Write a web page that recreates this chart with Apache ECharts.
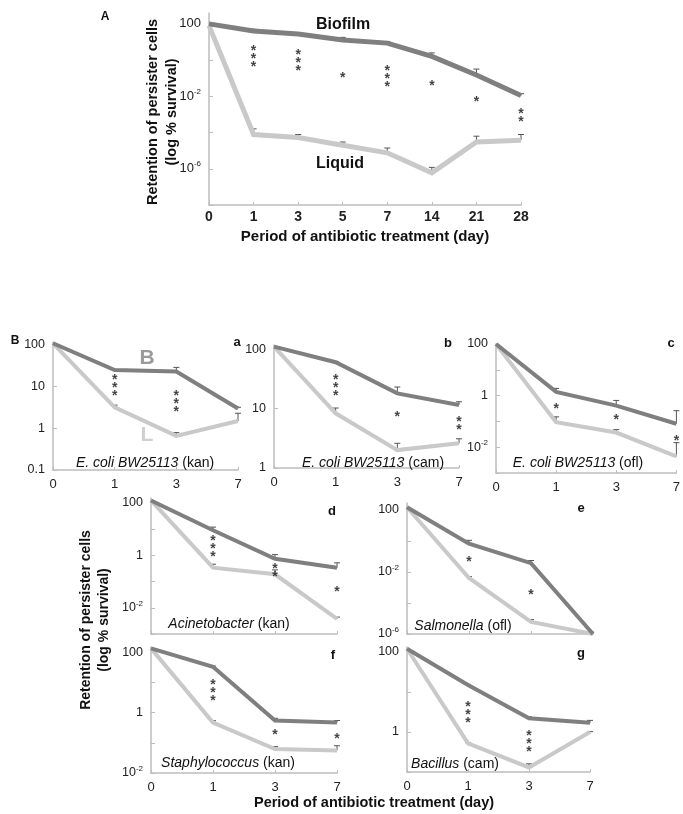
<!DOCTYPE html>
<html><head><meta charset="utf-8">
<script src="https://cdn.jsdelivr.net/npm/echarts@6/dist/echarts.min.js"></script>
<style>html,body{margin:0;padding:0;background:#fff}#c{width:683px;height:814px}</style>
</head><body><div id="c"></div>
<script>
// ---------- DATA ----------
const daysA = ['0','1','3','5','7','14','21','28'];
const biofilmA = [100, 41, 28, 13, 8.7, 1.6, 0.15, 0.011];
const biofilmErrA = [null, 51, 31, 18, 10.7, 2.5, 0.32, 0.014];
const liquidA = [80, 7.8e-5, 5.3e-5, 2.0e-5, 7.6e-6, 6.0e-7, 3.0e-5, 3.8e-5];
const liquidErrA = [null, 1.6e-4, 7.8e-5, 3.0e-5, 1.4e-5, 1.2e-6, 6.3e-5, 7.8e-5];
const starYA = [null, 1.7, 0.95, 0.14, 0.13, 0.054, 0.0074, 8.7e-4];
const starNA = [0, 3, 3, 1, 3, 1, 1, 2];

const daysB = ['0','1','3','7'];
// a: E. coli BW25113 (kan)
const aBio = [110, 25, 23, 3.0];
const aBioErr = [null, 26, 29, 3.2];
const aLiq = [110, 3.2, 0.66, 1.5];
const aLiqErr = [null, 3.6, 0.79, 2.3];
const aStarY = [null, 11, 4.4, null];
const aStarN = [0, 3, 3, 0];
// b: E. coli BW25113 (cam)
const bBio = [110, 60, 18, 11.5];
const bBioErr = [null, 62, 23, 13];
const bLiq = [110, 8.3, 2.0, 2.6];
const bLiqErr = [null, 10.2, 2.6, 3.1];
const bStarY = [null, 25, 7.9, 5.6];
const bStarN = [0, 3, 1, 2];
// c: E. coli BW25113 (ofl)
const cBio = [100, 1.4, 0.41, 0.081];
const cBioErr = [null, 1.9, 0.65, 0.26];
const cLiq = [100, 0.093, 0.037, 0.0044];
const cLiqErr = [null, 0.15, 0.048, 0.015];
const cStarY = [null, 0.4, 0.15, 0.023];
const cStarN = [0, 1, 1, 1];
// d: Acinetobacter (kan)
const dBio = [125, 9.1, 0.74, 0.34];
const dBioErr = [null, 12, 1.07, 0.52];
const dLiq = [125, 0.34, 0.19, 0.0038];
const dLiqErr = [null, 0.46, 0.28, 0.0044];
const dStarY = [null, 2.2, 0.28, 0.05];
const dStarN = [0, 3, 2, 1];
// e: Salmonella (ofl)
const eBio = [150, 0.67, 0.037, 1e-6];
const eBioErr = [null, 1.1, 0.055, null];
const eLiq = [150, 0.0041, 6e-6, 1e-6];
const eLiqErr = [null, 0.005, 8.5e-6, null];
const eStarY = [null, 0.07, 4.7e-4, null];
const eStarN = [0, 1, 1, 0];
// f: Staphylococcus (kan)
const fBio = [135, 33, 0.55, 0.47];
const fBioErr = [null, 35, 0.65, 0.55];
const fLiq = [135, 0.47, 0.062, 0.056];
const fLiqErr = [null, 0.54, 0.075, 0.08];
const fStarY = [null, 5.6, 0.22, 0.17];
const fStarN = [0, 3, 1, 1];
// g: Bacillus (cam)
const gBio = [120, 15, 2.2, 1.7];
const gBioErr = [null, 15.5, 2.4, 1.95];
const gLiq = [120, 0.52, 0.13, 1.0];
const gLiqErr = [null, 0.54, 0.16, 1.02];
const gStarY = [null, 3.2, 0.59, null];
const gStarN = [0, 3, 3, 0];

// ---------- LAYOUT ----------
const FONT = 'Arial, "Liberation Sans", Helvetica, sans-serif';
const DARK = '#7f7f7f', LIGHT = '#c9c9c9', AXIS = '#bdbdbd';

const panels = [
  {grid:{left:209, top:13, width:312, height:192}, cats:daysA, B:biofilmA, BE:biofilmErrA, L:liquidA, LE:liquidErrA, SY:starYA, SN:starNA,
   min:1e-8, max:400, labels:[100,1e-2,1e-6], ticks:[100,1,1e-2,1e-4,1e-6,1e-8], showX:true, lw:5, big:true},
  {grid:{left:53, top:342, width:185, height:128}, cats:daysB, B:aBio, BE:aBioErr, L:aLiq, LE:aLiqErr, SY:aStarY, SN:aStarN,
   min:0.1, max:118, labels:[100,10,1,0.1], ticks:[100,10,1,0.1], showX:true, lw:4},
  {grid:{left:274, top:345, width:185, height:123}, cats:daysB, B:bBio, BE:bBioErr, L:bLiq, LE:bLiqErr, SY:bStarY, SN:bStarN,
   min:1, max:117, labels:[100,10,1], ticks:[100,10,1], showX:true, lw:4},
  {grid:{left:496, top:344, width:183, height:129}, cats:daysB, B:cBio, BE:cBioErr, L:cLiq, LE:cLiqErr, SY:cStarY, SN:cStarN,
   min:1e-3, max:100, labels:[100,1,1e-2], ticks:[100,10,1,0.1,1e-2,1e-3], showX:true, lw:4},
  {grid:{left:151, top:498, width:186, height:136}, cats:daysB, B:dBio, BE:dBioErr, L:dLiq, LE:dLiqErr, SY:dStarY, SN:dStarN,
   min:1e-3, max:155, labels:[100,1,1e-2], ticks:[100,10,1,0.1,1e-2,1e-3], showX:false, lw:4},
  {grid:{left:407, top:503, width:186, height:131}, cats:daysB, B:eBio, BE:eBioErr, L:eLiq, LE:eLiqErr, SY:eStarY, SN:eStarN,
   min:1e-6, max:280, labels:[100,1e-2,1e-6], ticks:[100,1,1e-2,1e-4,1e-6], showX:false, lw:4},
  {grid:{left:151, top:647, width:186, height:126}, cats:daysB, B:fBio, BE:fBioErr, L:fLiq, LE:fLiqErr, SY:fStarY, SN:fStarN,
   min:1e-2, max:150, labels:[100,1,1e-2], ticks:[100,10,1,0.1,1e-2], showX:true, lw:4},
  {grid:{left:407, top:647, width:183, height:125}, cats:daysB, B:gBio, BE:gBioErr, L:gLiq, LE:gLiqErr, SY:gStarY, SN:gStarN,
   min:0.1, max:133, labels:[100,1], ticks:[100,10,1,0.1], showX:true, lw:4}
];

function fmtLog(v) {
  const e = Math.round(Math.log10(v));
  if (e >= 0) return String(Math.pow(10, e));
  if (e === -1) return '0.1';
  return '10{s|' + e + '}';
}

const grids = [], xAxes = [], yAxes = [], series = [];
panels.forEach((p, k) => {
  grids.push(Object.assign({containLabel:false}, p.grid));
  xAxes.push({
    type:'category', gridIndex:k, data:p.cats, boundaryGap:false,
    axisLine:{lineStyle:{color:AXIS, width:1.5}},
    axisTick:{show:true, inside:true, length:3, alignWithLabel:true, lineStyle:{color:AXIS}},
    axisLabel:{show:p.showX, color:'#222', fontFamily:FONT, fontSize:p.big?14:13, fontWeight:p.big?'bold':'normal', margin:p.big?5:8},
    splitLine:{show:false}
  });
  yAxes.push({
    type:'log', logBase:10, gridIndex:k, min:p.min, max:p.max,
    axisLine:{show:true, lineStyle:{color:AXIS, width:1.5}},
    axisTick:{show:true, inside:true, length:4, customValues:p.ticks, lineStyle:{color:AXIS}},
    axisLabel:{show:true, customValues:p.labels, color:'#222', fontFamily:FONT, fontSize:p.big?13:12.5, margin:8,
      formatter:fmtLog, rich:{s:{fontSize:8, fontFamily:FONT, color:'#222', padding:[0,0,9,0]}}},
    splitLine:{show:false}
  });
  const errSeries = (vals, tops, z) => ({
    type:'custom', xAxisIndex:k, yAxisIndex:k, silent:true, z:z, clip:false,
    data: tops.map((t, i) => t == null ? null : [i, t, vals[i]]).filter(d => d),
    renderItem: (params, api) => {
      const base = api.coord([api.value(0), api.value(2)]);
      const top = api.coord([api.value(0), api.value(1)]);
      const st = {stroke:'#555', lineWidth:1};
      return {type:'group', children:[
        {type:'line', shape:{x1:top[0], y1:base[1], x2:top[0], y2:top[1]}, style:st},
        {type:'line', shape:{x1:top[0]-3, y1:top[1], x2:top[0]+3, y2:top[1]}, style:st}
      ]};
    }
  });
  series.push(errSeries(p.B, p.BE, 1));
  series.push(errSeries(p.L, p.LE, 1));
  series.push({type:'line', xAxisIndex:k, yAxisIndex:k, data:p.B, symbol:'none', clip:false, silent:true, z:3,
    lineStyle:{color:DARK, width:p.lw, join:'miter'}});
  series.push({type:'line', xAxisIndex:k, yAxisIndex:k, data:p.L, symbol:'none', clip:false, silent:true, z:2,
    lineStyle:{color:LIGHT, width:p.lw, join:'miter'}});
  series.push({type:'scatter', xAxisIndex:k, yAxisIndex:k, silent:true, z:4, symbolSize:1, clip:false,
    itemStyle:{color:'rgba(0,0,0,0)'},
    data: p.SY.map((y, i) => y == null ? null : {value:[i, y],
      label:{show:true, position:'inside', formatter: Array(p.SN[i]).fill('*').join('\n')}}).filter(d => d),
    label:{show:true, position:'inside', color:'#111', fontFamily:FONT, fontSize:14, fontWeight:'bold', lineHeight:8, offset:[0,3]}
  });
});

const T = (x, y, text, o) => Object.assign({type:'text', x:x, y:y, silent:true,
  style:Object.assign({text:text, fill:'#111', font:'bold 13px ' + FONT, textAlign:'center', textVerticalAlign:'middle'}, o || {})});
const italicRich = {i:{fontStyle:'italic', fontSize:14, fontFamily:FONT, fill:'#111'}, n:{fontSize:14, fontFamily:FONT, fill:'#111'}};
const species = (x, y, it, rest) => ({type:'text', x:x, y:y, silent:true, z:10,
  style:{text:'{i|' + it + '}{n| ' + rest + '}', rich:italicRich, font:'14px ' + FONT, textAlign:'center', textVerticalAlign:'middle', fill:'#111'}});

const graphics = [
  T(105, 17, 'A', {font:'bold 12px ' + FONT}),
  T(343, 25, 'Biofilm', {font:'bold 16px ' + FONT}),
  T(340, 164, 'Liquid', {font:'bold 16px ' + FONT}),
  Object.assign(T(162, 112, 'Retention of persister cells\n(log % survival)', {font:'bold 14.5px ' + FONT, lineHeight:19}), {rotation:Math.PI/2}),
  T(365, 237, 'Period of antibiotic treatment (day)', {font:'bold 15px ' + FONT}),
  T(15, 341, 'B', {font:'bold 12px ' + FONT}),
  T(237, 342, 'a', {font:'bold 13px ' + FONT}),
  T(448, 343, 'b', {font:'bold 13px ' + FONT}),
  T(671, 343, 'c', {font:'bold 13px ' + FONT}),
  T(332, 511, 'd', {font:'bold 13px ' + FONT}),
  T(581, 508, 'e', {font:'bold 13px ' + FONT}),
  T(333, 655, 'f', {font:'bold 13px ' + FONT}),
  T(581, 653, 'g', {font:'bold 13px ' + FONT}),
  T(147, 358, 'B', {font:'bold 21px ' + FONT, fill:'#9a9a9a'}),
  T(147, 435, 'L', {font:'bold 21px ' + FONT, fill:'#cfcfcf'}),
  species(145, 463, 'E. coli BW25113', '(kan)'),
  species(373, 463, 'E. coli BW25113', '(cam)'),
  species(578, 463, 'E. coli BW25113', '(ofl)'),
  species(229, 624, 'Acinetobacter', '(kan)'),
  species(463, 626, 'Salmonella', '(ofl)'),
  species(228, 763, 'Staphylococcus', '(kan)'),
  species(455, 764, 'Bacillus', '(cam)'),
  Object.assign(T(95, 620, 'Retention of persister cells\n(log % survival)', {font:'bold 14px ' + FONT, lineHeight:18}), {rotation:Math.PI/2}),
  T(374, 803, 'Period of antibiotic treatment (day)', {font:'bold 14.5px ' + FONT})
];

const chart = echarts.init(document.getElementById('c'), null, {renderer:'canvas'});
chart.setOption({
  animation:false, backgroundColor:'#fff',
  grid:grids, xAxis:xAxes, yAxis:yAxes, series:series, graphic:graphics
});
</script></body></html>
